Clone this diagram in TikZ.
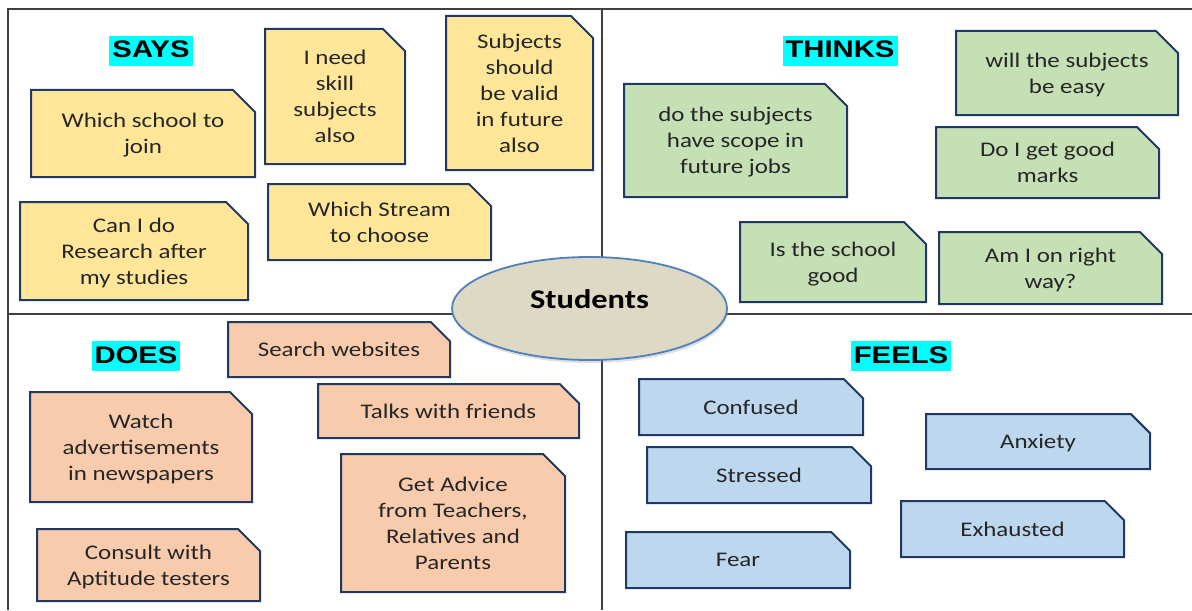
\documentclass[tikz,border=0pt]{standalone}
\usepackage{fontspec}
\setmainfont{Carlito}[FakeStretch=1.2]
\newfontfamily\headfont{Liberation Sans}[FakeStretch=1.22]
\usetikzlibrary{shapes.misc,shapes.geometric,shadows}
\definecolor{saysfill}{HTML}{FFE699}
\definecolor{thinksfill}{HTML}{C5E0B4}
\definecolor{doesfill}{HTML}{F8CBAD}
\definecolor{feelsfill}{HTML}{BDD7EE}
\definecolor{notedraw}{HTML}{203864}
\definecolor{notetext}{HTML}{262626}
\definecolor{headfill}{HTML}{00FFFF}
\definecolor{hubfill}{HTML}{DDD9C4}
\definecolor{hubdraw}{HTML}{4F81BD}
\tikzset{
  note/.style={chamfered rectangle, chamfered rectangle corners=north east,
    chamfered rectangle xsep=6pt, chamfered rectangle ysep=5pt,
    draw=notedraw, line width=1pt, align=center, inner sep=1pt,
    text depth=0pt, text=notetext, font=\fontsize{10.4}{13}\selectfont},
  heading/.style={fill=headfill, inner xsep=1.5pt, inner ysep=2pt,
    text height=9pt, text depth=2pt, font=\headfont\bfseries\fontsize{12}{14}\selectfont},
  frame/.style={draw=black!75, line width=0.75pt}
}
\begin{document}
\begin{tikzpicture}[x=0.5pt,y=-0.5pt]
  \useasboundingbox (0,0) rectangle (1192,610);
  % quadrants
  \draw[frame] (8,610) -- (8,9) -- (1192,9);
  \draw[frame] (602,9) -- (602,610);
  \draw[frame] (8,314) -- (1192,314);
  % headings
  \node[heading] (says) at (151,51) {SAYS};
  \node[heading] (thinks) at (840,51) {THINKS};
  \node[heading] (does) at (136,356) {DOES};
  \node[heading] (feels) at (901,356) {FEELS};
  % says
  \begin{scope}[every node/.style={note,fill=saysfill}]
    \node[minimum width=112pt,minimum height=43.5pt] (school) at (143,133.5) {Which school to\\join};
    \node[minimum width=70pt,minimum height=67.5pt] (skill) at (335,96.5) {I need\\skill\\subjects\\also};
    \node[minimum width=73.5pt,minimum height=77pt] (valid) at (519.5,93) {Subjects\\should\\be valid\\in future\\also};
    \node[minimum width=114pt,minimum height=49pt] (research) at (134,251) {Can I do\\Research after\\my studies};
    \node[minimum width=111.5pt,minimum height=38pt] (stream) at (379.5,222) {Which Stream\\to choose};
  \end{scope}
  % thinks
  \begin{scope}[every node/.style={note,fill=thinksfill}]
    \node[minimum width=111pt,minimum height=42pt] (easy) at (1067,73) {will the subjects\\be easy};
    \node[minimum width=111.5pt,minimum height=35.5pt] (marks) at (1047.5,162.5) {Do I get good\\marks};
    \node[minimum width=111.5pt,minimum height=56.5pt] (scope) at (735.5,140.5) {do the subjects\\have scope in\\future jobs};
    \node[minimum width=93pt,minimum height=40pt] (good) at (833,262) {Is the school\\good};
    \node[minimum width=111.5pt,minimum height=36pt] (way) at (1050.5,268) {Am I on right\\way?};
  \end{scope}
  % does
  \begin{scope}[every node/.style={note,fill=doesfill}]
    \node[minimum width=111pt,minimum height=27.5pt] (search) at (339,349.5) {Search websites};
    \node[minimum width=130.5pt,minimum height=27pt] (friends) at (448.5,411) {Talks with friends};
    \node[minimum width=111pt,minimum height=55pt] (adverts) at (141,447) {Watch\\advertisements\\in newspapers};
    \node[minimum width=112pt,minimum height=69pt] (advice) at (453,523) {Get Advice\\from Teachers,\\Relatives and\\Parents};
    \node[minimum width=111.5pt,minimum height=36pt] (testers) at (148.5,565) {Consult with\\Aptitude testers};
  \end{scope}
  % feels
  \begin{scope}[every node/.style={note,fill=feelsfill}]
    \node[minimum width=112pt,minimum height=28pt] (confused) at (751,407) {Confused};
    \node[minimum width=112pt,minimum height=28pt] (stressed) at (759,475) {Stressed};
    \node[minimum width=112pt,minimum height=28pt] (fear) at (738,560) {Fear};
    \node[minimum width=112pt,minimum height=27.5pt] (anxiety) at (1038,441.5) {Anxiety};
    \node[minimum width=111.5pt,minimum height=28pt] (exhausted) at (1012.5,529) {Exhausted};
  \end{scope}
  % centre
  \node[ellipse, draw=hubdraw, fill=hubfill, line width=0.9pt,
    minimum width=137.5pt, minimum height=51.5pt,
    drop shadow={opacity=0.25,shadow xshift=0.5pt,shadow yshift=-1.5pt},
    text height=9pt, text depth=9pt,
    font=\bfseries\fontsize{13.5}{16}\selectfont] (students) at (589.5,308.5) {Students};
\end{tikzpicture}
\end{document}
